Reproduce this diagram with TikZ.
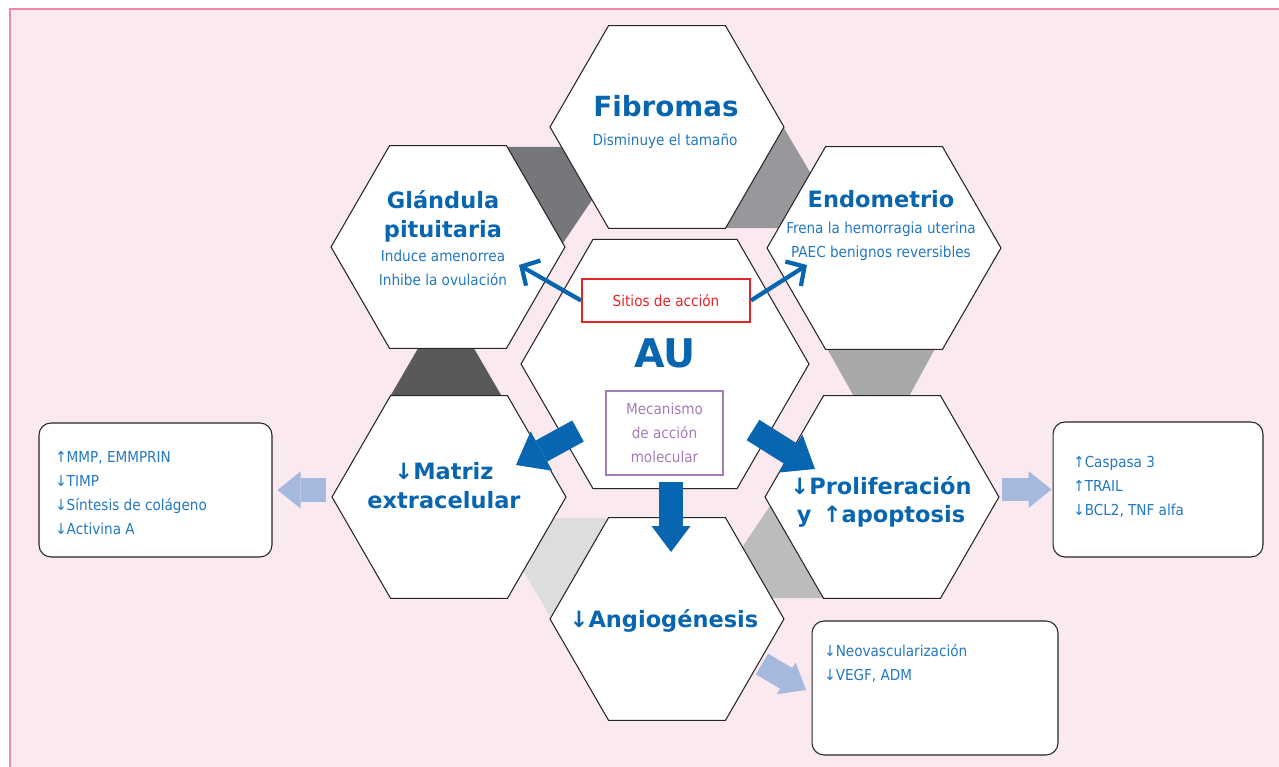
\documentclass[tikz,border=0pt]{standalone}
\usepackage{fontspec}
\setmainfont{DejaVu Sans}
\newfontfamily\condensada{DejaVu Sans Condensed}
\usetikzlibrary{shapes.geometric,arrows.meta}

\definecolor{fondorosa}{HTML}{FBE9F0}
\definecolor{bordrosa}{HTML}{EE87B0}
\definecolor{azul}{HTML}{0866B1}
\definecolor{azultexto}{HTML}{2378C1}
\definecolor{azulclaro}{HTML}{A5B9DF}
\definecolor{rojo}{HTML}{E42528}
\definecolor{morado}{HTML}{A67CB7}
\definecolor{gris1}{HTML}{76777A}
\definecolor{gris2}{HTML}{97989B}
\definecolor{gris3}{HTML}{58595B}
\definecolor{gris4}{HTML}{A7A8AA}
\definecolor{gris5}{HTML}{BBBCBE}
\definecolor{gris6}{HTML}{DCDDDE}

\begin{document}
\begin{tikzpicture}[
    % Единица = 1 пиксель исходной картинки
    x=0.02cm, y=-0.02cm,
    % Шестиугольники: белый фон, тонкая граница
    hexa/.style={regular polygon, regular polygon sides=6, draw=black!85, line width=0.6pt,
        fill=white, inner sep=0pt, minimum size=4.68cm},
    % Тексты
    titulo/.style={font=\fontsize{12.8}{16.4}\selectfont\bfseries, text=azul, align=center},
    texto/.style={font=\condensada\fontsize{8.6}{13.6}\selectfont, text=azultexto, align=center, inner sep=0pt},
    lista/.style={texto, align=left, anchor=north west},
    % Боковые рамки
    caja/.style={draw=black!85, line width=0.6pt, fill=white, rounded corners=0.24cm},
    % Стрелки
    flechaAU/.style={draw=azul, line width=0.48cm, -{Triangle[length=0.58cm, width=0.9cm, line width=0pt]}},
    flechafina/.style={draw=azul, line width=0.085cm, -{Straight Barb[length=0.27cm, width=0.58cm]}},
    flechaclara/.style={draw=azulclaro, line width=0.48cm, -{Triangle[length=0.46cm, width=0.74cm, line width=0pt]}}
]

    % Фон
    \useasboundingbox (0,0) rectangle (1279,767);
    \clip (0,0) rectangle (1279,767);
    \fill[white] (0,0) rectangle (1279,767);
    \fill[fondorosa] (10,9) rectangle (1290,780);
    \draw[bordrosa, line width=1.5pt] (10,780) -- (10,9) -- (1290,9);

    % Серые перемычки между шестиугольниками
    \fill[gris1] (500,147) -- (566,147) -- (594,197) -- (559,249) -- cycle;
    \fill[gris2] (781,123) -- (814,179) -- (786,228) -- (720,228) -- cycle;
    \fill[gris3] (420,345) -- (472,345) -- (504,400) -- (388,400) -- cycle;
    \fill[gris4] (825,345) -- (937,345) -- (907,400) -- (856,400) -- cycle;
    \fill[gris5] (776,497) -- (835,598) -- (769,598) -- (741,549) -- cycle;
    \fill[gris6] (549,518) -- (615,518) -- (554,623) -- (521,567) -- cycle;

    % Шестиугольники
    \node[hexa] (fibromas) at (667,127) {};
    \node[hexa] (glandula) at (448,247) {};
    \node[hexa] (endometrio) at (884,248) {};
    \node[hexa, minimum size=5.76cm] (au) at (665,364) {};
    \node[hexa] (matriz) at (449,497) {};
    \node[hexa] (prolif) at (882,497) {};
    \node[hexa] (angio) at (667,619) {};

    % Рамки со списками
    \node[caja, minimum width=4.66cm, minimum height=2.68cm] (cajam) at (155.5,490) {};
    \node[caja, minimum width=4.2cm, minimum height=2.7cm] (cajap) at (1158,489.5) {};
    \node[caja, minimum width=4.92cm, minimum height=2.68cm] (cajaa) at (935,688) {};

    % Подписи в шестиугольниках
    \node[titulo, font=\fontsize{15.8}{19}\selectfont\bfseries, anchor=base] (t-fib) at (666,117) {Fibromas};
    \node[texto, anchor=base] (s-fib) at (665,146) {Disminuye el tamaño};
    \node[titulo] (t-gla) at (443,216) {Glándula\\pituitaria};
    \node[texto] (s-gla) at (443,268) {Induce amenorrea\\Inhibe la ovulación};
    \node[titulo, anchor=base] (t-end) at (881,208) {Endometrio};
    \node[texto] (s-end) at (881,241) {Frena la hemorragia uterina\\PAEC benignos reversibles};
    \node[titulo, font=\fontsize{22.5}{26}\selectfont\bfseries, anchor=base] (t-au) at (665,367) {AU};
    \node[titulo] (t-mat) at (444,486) {↓Matriz\\extracelular};
    \node[titulo] (t-pro) at (881,502) {↓Proliferación\\y\enspace↑apoptosis};
    \node[titulo, anchor=base] (t-ang) at (664,627) {↓Angiogénesis};

    % Рамки внутри AU
    \node[texto, draw=rojo, line width=1.1pt, fill=white, text=rojo,
        minimum width=3.36cm, minimum height=0.86cm] (sitios) at (666,300.5) {Sitios de acción};
    \node[texto, draw=morado, line width=1.1pt, fill=white, text=morado,
        minimum width=2.34cm, minimum height=1.68cm] (mecanismo) at (664.5,433) {Mecanismo\\de acción\\molecular};

    % Списки
    \node[lista] (l-mat) at (55,451) {↑MMP, EMMPRIN\\↓TIMP\\↓Síntesis de colágeno\\↓Activina A};
    \node[lista] (l-pro) at (1073,456) {↑Caspasa 3\\↑TRAIL\\↓BCL2, TNF alfa};
    \node[lista] (l-ang) at (824,644) {↓Neovascularización\\↓VEGF, ADM};

    % Концы стрелок
    \coordinate (au-mat) at (578,431);
    \coordinate (mat-au) at (516,465);
    \coordinate (au-ang) at (671,482);
    \coordinate (ang-au) at (671,552);
    \coordinate (au-pro) at (753,430);
    \coordinate (pro-au) at (815,469);
    \coordinate (gla-sit) at (519,265);
    \coordinate (end-sit) at (807,265);
    \coordinate (ang-sal) at (762,664);
    \coordinate (cajaa-ent) at (806,690);

    % Стрелки
    \draw[flechaAU] (au-mat) -- (mat-au);
    \draw[flechaAU, -{Triangle[length=0.52cm, width=0.78cm, line width=0pt]}] (au-ang) -- (ang-au);
    \draw[flechaAU] (au-pro) -- (pro-au);
    \draw[flechafina] (sitios.west) -- (gla-sit);
    \draw[flechafina] (sitios.east) -- (end-sit);
    \draw[flechaclara, shorten <=0.1cm, shorten >=0.1cm] (matriz.west |- cajam.east) -- (cajam.east);
    \draw[flechaclara, shorten <=0.04cm, shorten >=0.02cm] (prolif.east |- cajap.west) -- (cajap.west);
    \draw[flechaclara] (ang-sal) -- (cajaa-ent);

\end{tikzpicture}
\end{document}
